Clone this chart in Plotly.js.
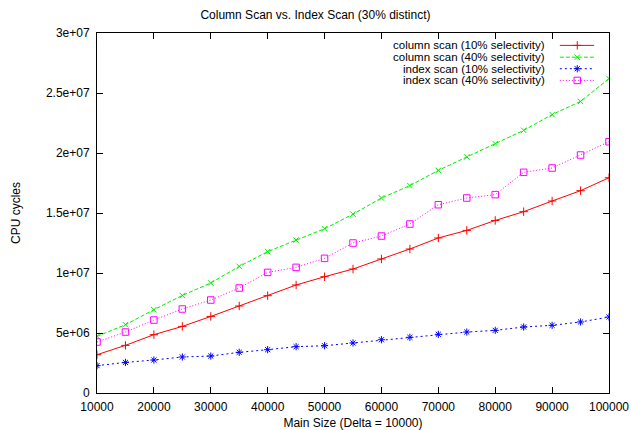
<!DOCTYPE html>
<html>
<head>
<meta charset="utf-8">
<script src="https://cdn.plot.ly/plotly-3.0.1.min.js"></script>
<style>html,body{margin:0;padding:0;background:#fff;}#chart{width:631px;height:430px;}</style>
</head>
<body>
<div id="chart"></div>
<script>
const mainSize = [10000,15000,20000,25000,30000,35000,40000,45000,50000,55000,60000,65000,70000,75000,80000,85000,90000,95000,100000];
const colScan10 = [3.19e6,3.97e6,4.86e6,5.55e6,6.38e6,7.25e6,8.11e6,9.0e6,9.69e6,10.33e6,11.17e6,12.0e6,12.92e6,13.55e6,14.38e6,15.11e6,16.0e6,16.86e6,17.94e6];
const colScan40 = [4.72e6,5.69e6,6.94e6,8.13e6,9.17e6,10.55e6,11.78e6,12.75e6,13.69e6,14.9e6,16.25e6,17.28e6,18.55e6,19.67e6,20.78e6,21.89e6,23.2e6,24.3e6,26.2e6];
const idxScan10 = [2.28e6,2.55e6,2.75e6,3.0e6,3.08e6,3.39e6,3.61e6,3.86e6,3.94e6,4.17e6,4.44e6,4.64e6,4.89e6,5.08e6,5.22e6,5.5e6,5.64e6,5.92e6,6.33e6];
const idxScan40 = [4.25e6,5.08e6,6.08e6,7.0e6,7.75e6,8.75e6,10.05e6,10.47e6,11.22e6,12.5e6,13.08e6,14.08e6,15.69e6,16.25e6,16.53e6,18.39e6,18.75e6,19.83e6,20.94e6];
const seriesNames = ["column scan (10% selectivity)","column scan (40% selectivity)","index scan (10% selectivity)","index scan (40% selectivity)"];
const xTicks = [10000,20000,30000,40000,50000,60000,70000,80000,90000,100000];
const yTickVals = [0,5e6,1e7,1.5e7,2e7,2.5e7,3e7];
const yTickText = ["0","5e+06","1e+07","1.5e+07","2e+07","2.5e+07","3e+07"];

const styles = [
  {color:"#ff0000", dash:"solid", symbol:"cross-thin", size:6},
  {color:"#00ee00", dash:"4px,2px", symbol:"x-thin", size:5.5},
  {color:"#0000ff", dash:"2px,3px", symbol:"asterisk", size:6},
  {color:"#ff00ff", dash:"1px,2px", symbol:"square-open", size:6.5}
];
const allY = [colScan10, colScan40, idxScan10, idxScan40];

const traces = [];
allY.forEach((ys,i)=>{
  const s = styles[i];
  traces.push({
    x: mainSize, y: ys, type:"scatter", mode:"lines+markers", name: seriesNames[i],
    line:{color:s.color, width:1, dash:s.dash},
    marker:{symbol:s.symbol, size:s.size, color:s.color, line:{color:s.color, width:1}},
    showlegend:false, hoverinfo:"none"
  });
});

const font = {family:"Liberation Sans, Arial, sans-serif", size:12, color:"#000"};
const keyFont = {family:"Liberation Sans, Arial, sans-serif", size:11.5, color:"#000"};

// gnuplot-like key: text right-aligned, line sample on its right
const legY = [0.9656, 0.9328, 0.9008, 0.8683];
const annotations = [];
seriesNames.forEach((n,i)=>{
  const s = styles[i];
  annotations.push({xref:"paper", yref:"paper", x:0.877, y:legY[i], xanchor:"right", yanchor:"middle",
    text:n, showarrow:false, font:keyFont, borderpad:0});
  traces.push({x:[0.904,0.971], y:[legY[i],legY[i]], xaxis:"x2", yaxis:"y2", type:"scatter", mode:"lines",
    line:{color:s.color, width:1, dash:s.dash}, showlegend:false, hoverinfo:"none"});
  traces.push({x:[0.938], y:[legY[i]], xaxis:"x2", yaxis:"y2", type:"scatter", mode:"markers",
    marker:{symbol:s.symbol, size:s.size, color:s.color, line:{color:s.color, width:1}}, showlegend:false, hoverinfo:"none"});
});

const layout = {
  width:631, height:430,
  margin:{l:97, r:22, t:33, b:37},
  paper_bgcolor:"#fff", plot_bgcolor:"#fff",
  font: font,
  showlegend:false,
  title:{text:"Column Scan vs. Index Scan (30% distinct)", font:font, x:0.5, xanchor:"center", y:0.965, yanchor:"middle"},
  xaxis:{range:[10000,100000], tickvals:xTicks, ticktext:xTicks.map(String), ticks:"inside", ticklen:6, tickwidth:1, tickcolor:"#000",
    showline:true, linecolor:"#000", linewidth:1, mirror:"ticks", showgrid:false, zeroline:false, ticklabelstandoff:3,
    title:{text:"Main Size (Delta = 10000)", font:font, standoff:6}, tickfont:font},
  yaxis:{range:[0,3e7], tickvals:yTickVals, ticktext:yTickText, ticks:"inside", ticklen:6, tickwidth:1, tickcolor:"#000",
    showline:true, linecolor:"#000", linewidth:1, mirror:"ticks", showgrid:false, zeroline:false, ticklabelstandoff:4,
    title:{text:"CPU cycles", font:font, standoff:22}, tickfont:font},
  xaxis2:{domain:[0,1], range:[0,1], overlaying:"x", visible:false, fixedrange:true},
  yaxis2:{domain:[0,1], range:[0,1], overlaying:"y", visible:false, fixedrange:true},
  annotations: annotations
};
Plotly.newPlot("chart", traces, layout, {staticPlot:true, displayModeBar:false});
</script>
</body>
</html>
